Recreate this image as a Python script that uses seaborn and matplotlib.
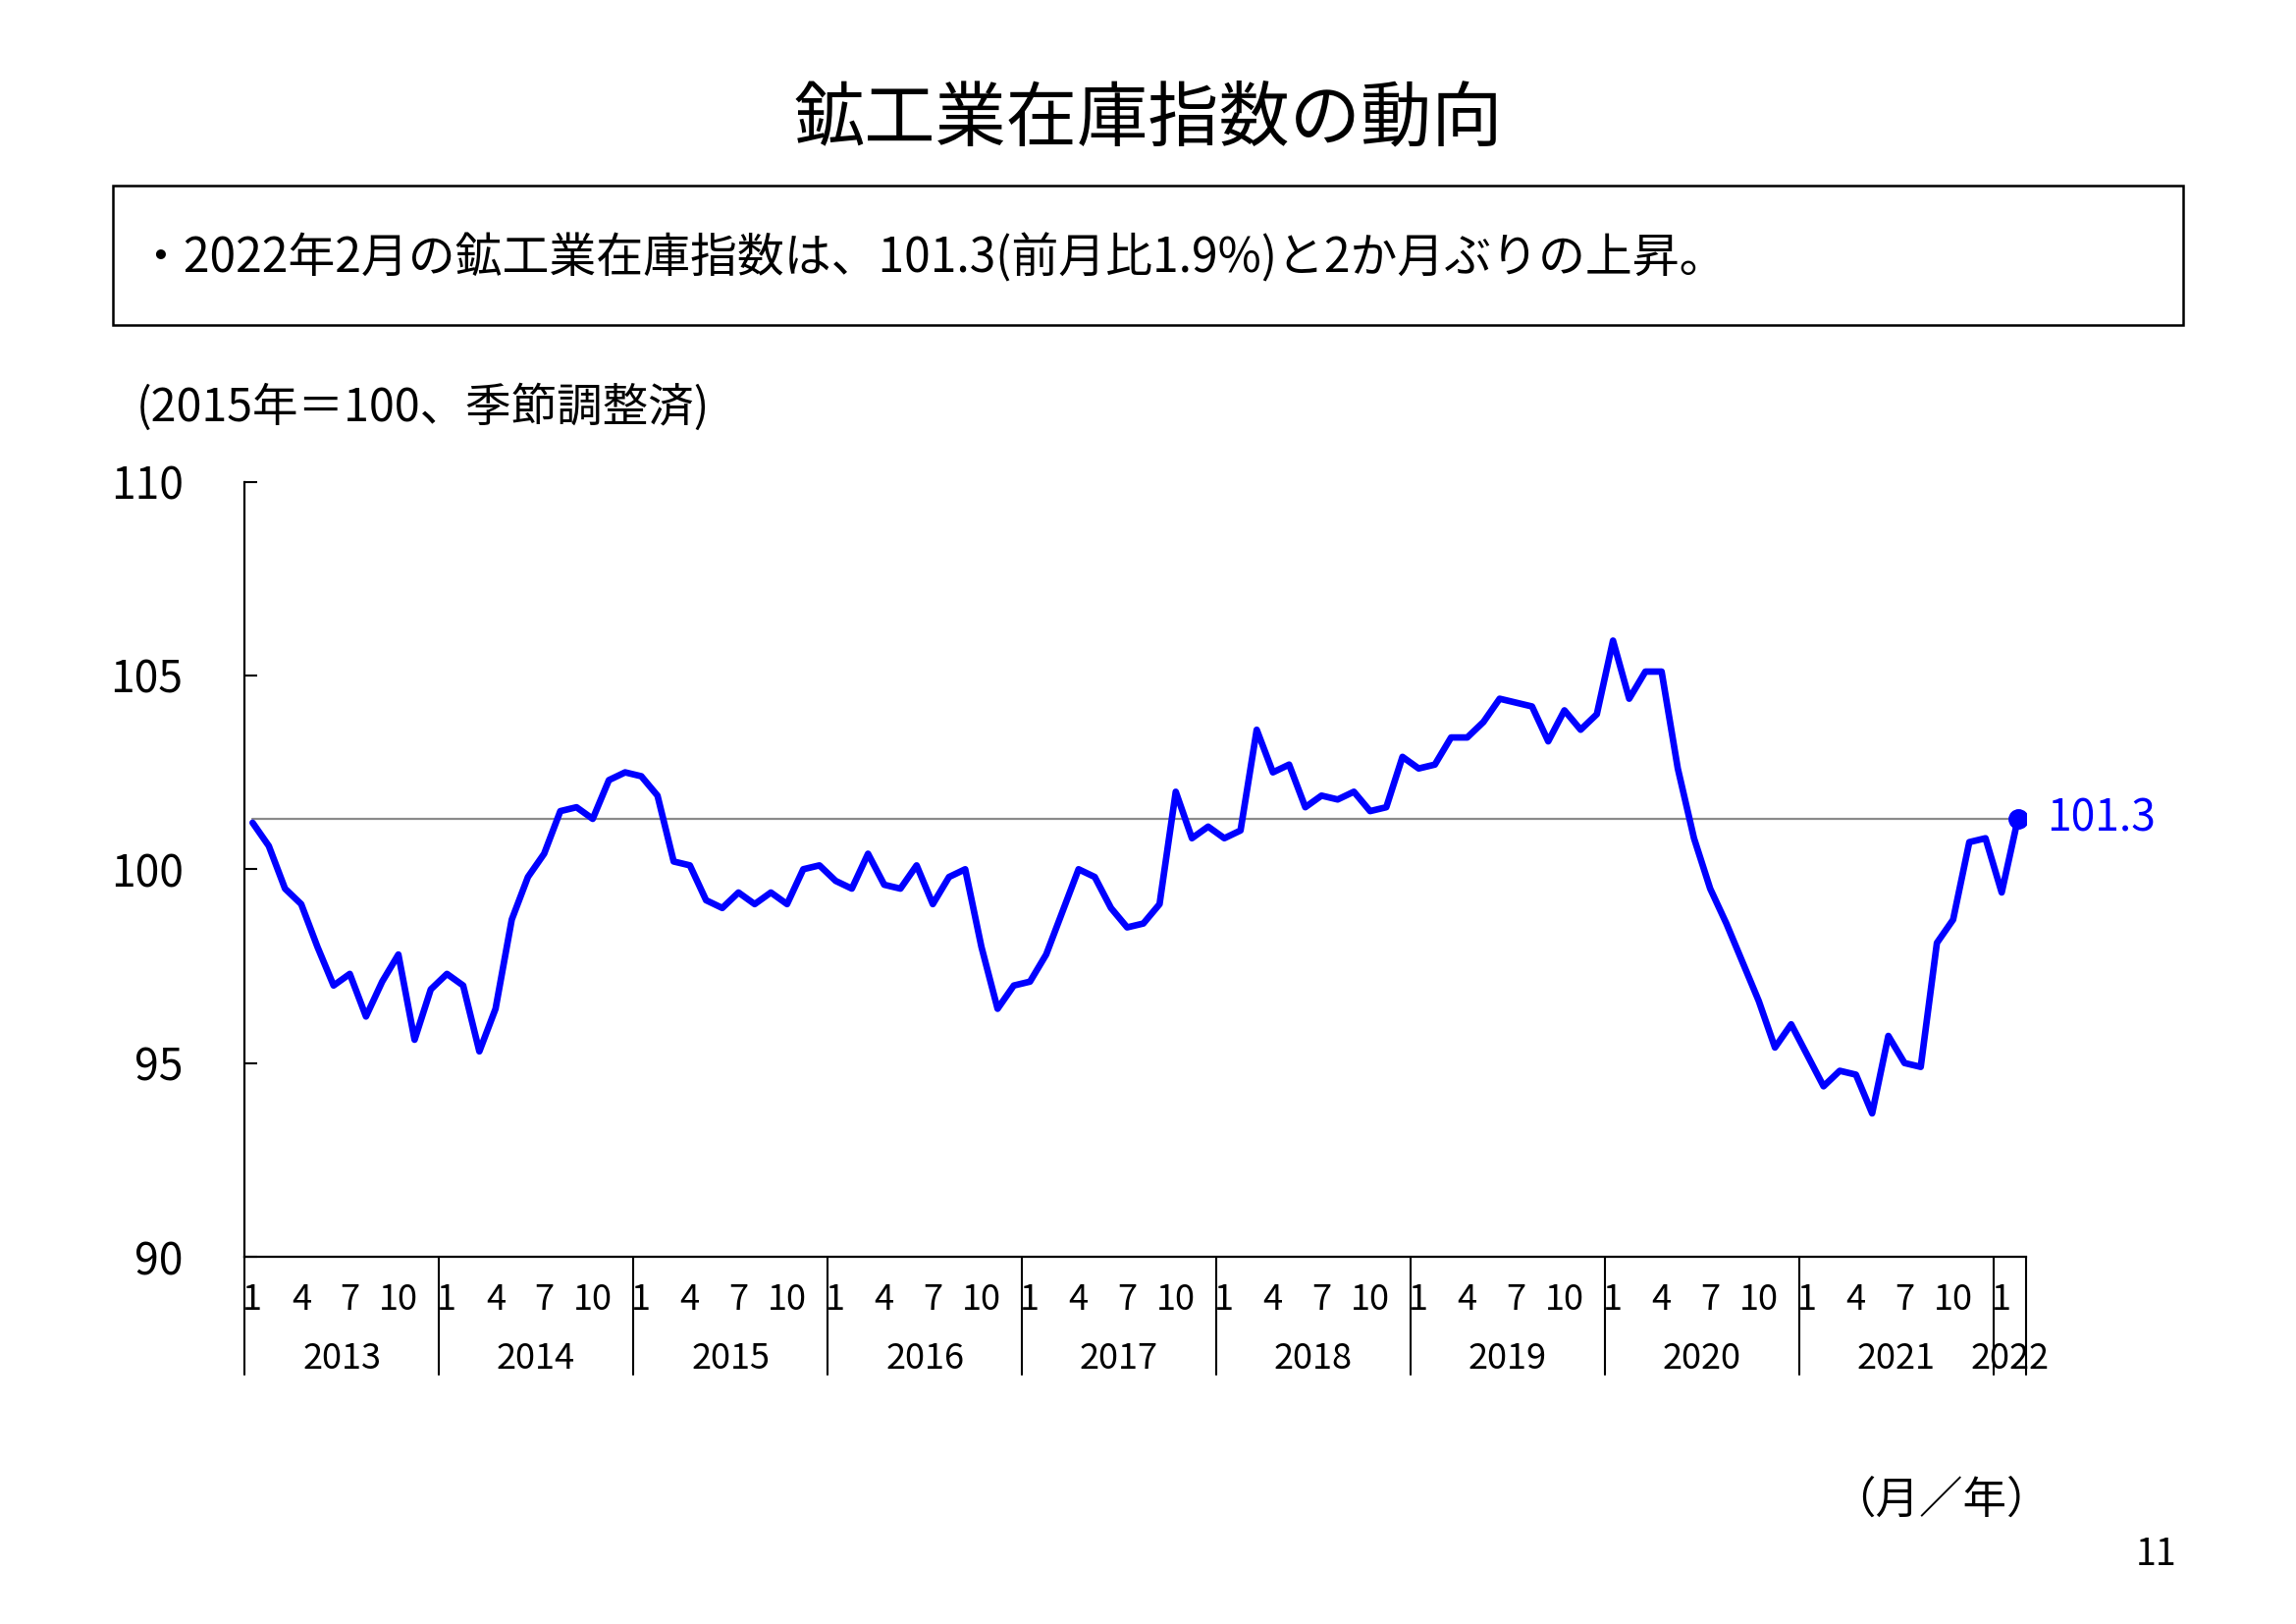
import numpy as np
import pandas as pd
import seaborn as sns
import matplotlib
matplotlib.use("Agg")
import matplotlib.pyplot as plt
import matplotlib.transforms as mtransforms
from matplotlib.patches import Rectangle

# ---- data (鉱工業在庫指数, 2015年=100, 季節調整済) ----
years = [2013, 2014, 2015, 2016, 2017, 2018, 2019, 2020, 2021, 2022]
v2013 = [101.2, 100.6, 99.5, 99.1, 98.0, 97.0, 97.3, 96.2, 97.1, 97.8, 95.6, 96.9]
v2014 = [97.3, 97.0, 95.3, 96.4, 98.7, 99.8, 100.4, 101.5, 101.6, 101.3, 102.3, 102.5]
v2015 = [102.4, 101.9, 100.2, 100.1, 99.2, 99.0, 99.4, 99.1, 99.4, 99.1, 100.0, 100.1]
v2016 = [99.7, 99.5, 100.4, 99.6, 99.5, 100.1, 99.1, 99.8, 100.0, 98.0, 96.4, 97.0]
v2017 = [97.1, 97.8, 98.9, 100.0, 99.8, 99.0, 98.5, 98.6, 99.1, 102.0, 100.8, 101.1]
v2018 = [100.8, 101.0, 103.6, 102.5, 102.7, 101.6, 101.9, 101.8, 102.0, 101.5, 101.6, 102.9]
v2019 = [102.6, 102.7, 103.4, 103.4, 103.8, 104.4, 104.3, 104.2, 103.3, 104.1, 103.6, 104.0]
v2020 = [105.9, 104.4, 105.1, 105.1, 102.6, 100.8, 99.5, 98.6, 97.6, 96.6, 95.4, 96.0]
v2021 = [95.2, 94.4, 94.8, 94.7, 93.7, 95.7, 95.0, 94.9, 98.1, 98.7, 100.7, 100.8]
v2022 = [99.4, 101.3]
series = [v2013, v2014, v2015, v2016, v2017, v2018, v2019, v2020, v2021, v2022]
month_ticks = [1, 4, 7, 10]
yticks = [90, 95, 100, 105, 110]

title = "鉱工業在庫指数の動向"
summary = "・2022年2月の鉱工業在庫指数は、101.3(前月比1.9%)と2か月ぶりの上昇。"
unit_label = "(2015年＝100、季節調整済)"
xunit_label = "（月／年）"
page_no = "11"

rows = []
for y, vals in zip(years, series):
    for m, v in enumerate(vals, start=1):
        rows.append({"year": y, "month": m, "value": v})
df = pd.DataFrame(rows)
df["idx"] = np.arange(len(df))

# ---- style ----
sns.set_theme(style="white")
plt.rcParams["font.family"] = ["Noto Sans CJK JP", "DejaVu Sans"]

fig = plt.figure(figsize=(23.39, 16.54), dpi=100)
ax = fig.add_axes([0.1065, 0.2261, 0.7759, 0.4773])

blue = "#0000FF"
latest = df["value"].iloc[-1]
first_i, last_i = df["idx"].iloc[0], df["idx"].iloc[-1]

# reference line at latest value
ax.plot([first_i, last_i], [latest, latest], color="#8a8a8a", lw=1.6, zorder=2)

sns.lineplot(data=df, x="idx", y="value", color=blue, linewidth=4.8, ax=ax, zorder=3)
ax.plot([last_i], [latest], marker="o", ms=14, color=blue, zorder=4)
ax.annotate(f"{latest:.1f}", xy=(last_i, latest), xytext=(21, 0),
            textcoords="offset points", ha="left", va="center",
            fontsize=32, color=blue)

ax.set_xlim(-0.5, len(df) - 0.5)
ax.set_ylim(yticks[0], yticks[-1])
ax.set_yticks(yticks)
ax.set_yticklabels([str(t) for t in yticks])
ax.set_xticks([])
ax.set_xlabel("")
ax.set_ylabel("")
ax.tick_params(axis="y", direction="in", length=9.5, width=1.5, pad=45,
               labelsize=32, colors="black", left=True)
for s in ["top", "right"]:
    ax.spines[s].set_visible(False)
for s in ["left", "bottom"]:
    ax.spines[s].set_color("black")
    ax.spines[s].set_linewidth(1.6)

trans = mtransforms.blended_transform_factory(ax.transData, ax.transAxes)

# month labels
for _, r in df[df["month"].isin(month_ticks)].iterrows():
    ax.text(r["idx"], -0.056, str(int(r["month"])), transform=trans,
            ha="center", va="center", fontsize=26, color="black")

# year separators and labels
bounds = []
for y in years:
    sub = df[df["year"] == y]
    a, b = sub["idx"].iloc[0], sub["idx"].iloc[-1]
    bounds.append(a - 0.5)
    ax.text((a + b) / 2, -0.132, str(y), transform=trans,
            ha="center", va="center", fontsize=26, color="black")
bounds.append(last_i + 0.5)
for xb in bounds:
    ax.plot([xb, xb], [0, -0.152], transform=trans, color="black",
            lw=1.5, clip_on=False)

# ---- page texts ----
fig.text(0.5, 0.926, title, ha="center", va="center", fontsize=52, color="black")
fig.add_artist(Rectangle((0.0492, 0.7999), 0.9016, 0.0858, transform=fig.transFigure,
                         fill=False, lw=1.8, edgecolor="black"))
fig.text(0.0594, 0.8405, summary, ha="left", va="center", fontsize=34.5, color="black")
fig.text(0.0594, 0.749, unit_label, ha="left", va="center", fontsize=33.5, color="black")
fig.text(0.893, 0.0762, xunit_label, ha="right", va="center", fontsize=32, color="black")
fig.text(0.948, 0.0429, page_no, ha="right", va="center", fontsize=27, color="black")

fig.savefig("out.png", dpi=100)
